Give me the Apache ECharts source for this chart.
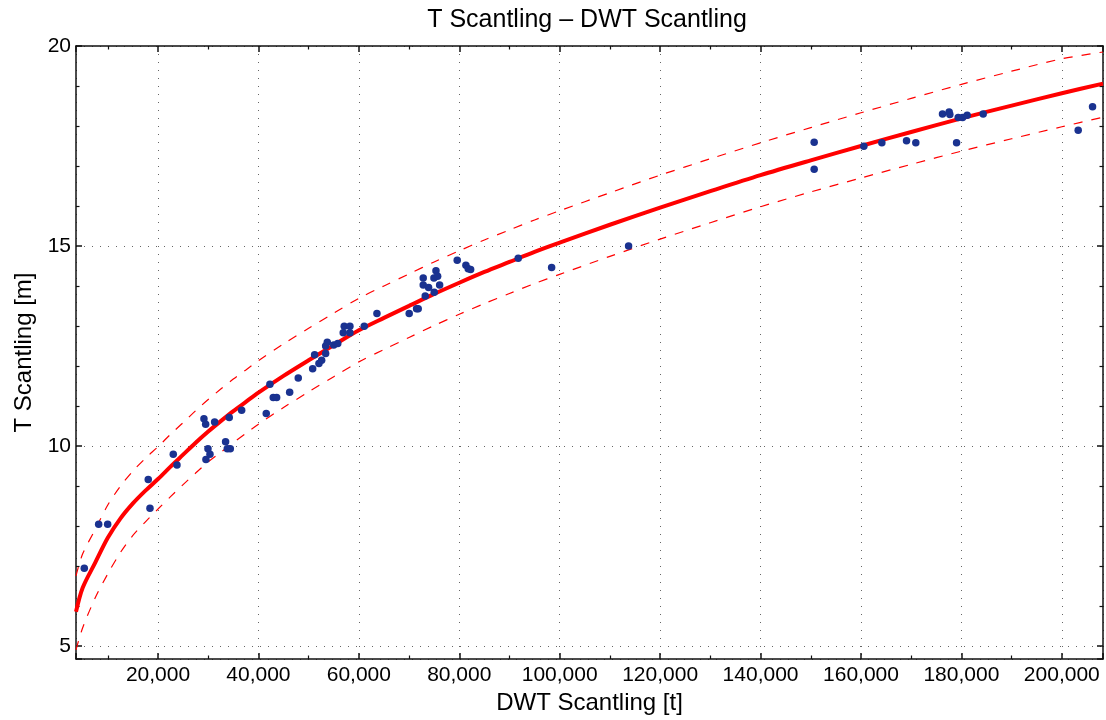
<!DOCTYPE html>
<html>
<head>
<meta charset="utf-8">
<script src="https://cdn.jsdelivr.net/npm/echarts@6/dist/echarts.min.js"></script>
<style>
html,body{margin:0;padding:0;background:#fff;}
#c{width:1106px;height:720px;}
</style>
</head>
<body>
<div id="c"></div>
<script>
// Observed ships: [DWT Scantling (t), T Scantling (m)]
var shipDWT = [5317, 8184, 9976, 18060, 18400, 23040, 23780,
  29150, 29490, 31280, 34190, 36660, 33460, 29950, 30350, 29550, 33800, 34400,
  41560, 42290, 42950, 43630, 46220, 47930, 50800, 51190, 52050, 52590, 53390, 53390, 53710,
  55000, 55800, 56890, 58220, 57090, 58220, 61070, 63600, 70030, 71500, 71820,
  73220, 72820, 72820, 73890, 75010, 74950, 75360, 75690, 76090, 79590, 81320, 81780, 82260,
  91740, 98390, 113720, 150680, 150680, 160570, 164160, 169070, 170920,
  176240, 177560, 177700, 179040, 179360, 180230, 181150, 184340, 203260, 206120];
var shipT = [6.94, 8.04, 8.04, 9.16, 8.44, 9.79, 9.52,
  10.68, 10.54, 10.60, 10.71, 10.89, 10.10, 9.93, 9.79, 9.66, 9.93, 9.93,
  10.81, 11.54, 11.21, 11.21, 11.34, 11.70, 11.93, 12.28, 12.06, 12.14, 12.31, 12.50, 12.59,
  12.52, 12.56, 12.83, 12.83, 12.99, 12.99, 12.99, 13.31, 13.31, 13.43, 13.43,
  13.75, 14.02, 14.20, 13.96, 13.84, 14.20, 14.38, 14.24, 14.02, 14.64, 14.52, 14.43, 14.41,
  14.69, 14.46, 15.00, 17.59, 16.92, 17.49, 17.58, 17.63, 17.58,
  18.30, 18.35, 18.29, 17.58, 18.21, 18.21, 18.27, 18.30, 17.89, 18.48];

// Fitted curve (solid) and its band (dashed), read at these DWT values
var fitDWT = [3670, 5000, 7500, 10000, 12500, 15000, 17500, 20000, 22500, 25000, 27500,
  30000, 32500, 35000, 37500, 40000, 45000, 50000, 55000, 60000, 65000, 70000, 75000,
  80000, 85000, 90000, 95000, 100000, 110000, 120000, 130000, 140000, 150000,
  160000, 170000, 180000, 190000, 200000, 208200];
var fitT = [5.85, 6.45, 7.08, 7.70, 8.18, 8.56, 8.88, 9.17, 9.48, 9.78, 10.08,
  10.36, 10.62, 10.87, 11.10, 11.33, 11.75, 12.14, 12.52, 12.89, 13.20, 13.50, 13.80,
  14.08, 14.35, 14.60, 14.85, 15.08, 15.53, 15.96, 16.37, 16.77, 17.14,
  17.50, 17.85, 18.19, 18.51, 18.82, 19.06];
var upperT = [6.75, 7.30, 7.91, 8.52, 8.99, 9.37, 9.69, 9.98, 10.29, 10.58, 10.88,
  11.16, 11.42, 11.67, 11.90, 12.13, 12.55, 12.94, 13.32, 13.69, 14.00, 14.30, 14.60,
  14.88, 15.15, 15.40, 15.65, 15.88, 16.33, 16.77, 17.18, 17.58, 17.96,
  18.33, 18.69, 19.04, 19.37, 19.68, 19.85];
var lowerT = [4.90, 5.45, 6.20, 6.80, 7.33, 7.76, 8.10, 8.42, 8.73, 9.03, 9.32,
  9.60, 9.84, 10.08, 10.31, 10.54, 10.96, 11.35, 11.73, 12.10, 12.41, 12.71, 13.01,
  13.29, 13.56, 13.81, 14.06, 14.29, 14.74, 15.17, 15.58, 15.98, 16.35,
  16.70, 17.04, 17.37, 17.68, 17.98, 18.22];

var xMin = 3670, xMax = 208200, yMin = 4.67, yMax = 20;
var titleText = 'T Scantling \u2013 DWT Scantling';
var xName = 'DWT Scantling [t]';
var yName = 'T Scantling [m]';

function pairs(xs, ys) { return xs.map(function (x, i) { return [x, ys[i]]; }); }

var FONT = '"Liberation Sans", Arial, Helvetica, sans-serif';
var axisLine = { show: true, onZero: false, lineStyle: { color: '#111', width: 1.5 } };
var tick = { show: true, inside: true, length: 6, lineStyle: { color: '#111', width: 1.5 } };
var grid = { show: true, lineStyle: { color: '#666', width: 1, type: [1, 7] } };

var chart = echarts.init(document.getElementById('c'), null, { renderer: 'canvas' });
chart.setOption({
  animation: false,
  backgroundColor: '#fff',
  textStyle: { fontFamily: FONT },
  title: {
    text: titleText, left: 582, top: 3, textAlign: 'center',
    textStyle: { fontFamily: FONT, fontSize: 25, fontWeight: 'normal', color: '#000' }
  },
  grid: { left: 76, right: 3, top: 46, bottom: 61, containLabel: false },
  xAxis: [{
    type: 'value', min: xMin, max: xMax, splitNumber: 10, position: 'bottom',
    name: xName, nameLocation: 'middle', nameGap: 29,
    nameTextStyle: { fontFamily: FONT, fontSize: 24, color: '#000' },
    axisLine: axisLine, axisTick: tick,
    minorTick: { show: true, splitNumber: 2, length: 3.5, lineStyle: { color: '#111', width: 1.2 } },
    splitLine: grid,
    axisLabel: { fontFamily: FONT, fontSize: 21, color: '#000', margin: 6, showMinLabel: false, showMaxLabel: false,
      formatter: function (v) { return v.toLocaleString('en-US'); } }
  }, {
    type: 'value', min: xMin, max: xMax, splitNumber: 10, position: 'top',
    axisLine: axisLine, axisTick: tick,
    minorTick: { show: true, splitNumber: 2, length: 3.5, lineStyle: { color: '#111', width: 1.2 } },
    splitLine: { show: false }, axisLabel: { show: false }
  }],
  yAxis: [{
    type: 'value', min: yMin, max: yMax, splitNumber: 3, position: 'left',
    name: yName, nameLocation: 'middle', nameGap: 40, nameRotate: 90,
    nameTextStyle: { fontFamily: FONT, fontSize: 24, color: '#000' },
    axisLine: axisLine, axisTick: tick,
    minorTick: { show: true, splitNumber: 5, length: 3.5, lineStyle: { color: '#111', width: 1.2 } },
    splitLine: grid,
    axisLabel: { fontFamily: FONT, fontSize: 21, color: '#000', margin: 5, showMinLabel: false, showMaxLabel: true }
  }, {
    type: 'value', min: yMin, max: yMax, splitNumber: 3, position: 'right',
    axisLine: axisLine, axisTick: tick,
    minorTick: { show: true, splitNumber: 5, length: 3.5, lineStyle: { color: '#111', width: 1.2 } },
    splitLine: { show: false }, axisLabel: { show: false }
  }],
  series: [{
    type: 'line', name: 'upper', data: pairs(fitDWT, upperT), smooth: 0.3,
    showSymbol: false, symbol: 'none', lineStyle: { color: '#ff0000', width: 1.2, type: [9, 9] }, z: 2
  }, {
    type: 'line', name: 'lower', data: pairs(fitDWT, lowerT), smooth: 0.3,
    showSymbol: false, symbol: 'none', lineStyle: { color: '#ff0000', width: 1.2, type: [9, 9] }, z: 2
  }, {
    type: 'line', name: 'fit', data: pairs(fitDWT, fitT), smooth: 0.3,
    showSymbol: false, symbol: 'none', lineStyle: { color: '#ff0000', width: 4 }, z: 3
  }, {
    type: 'scatter', name: 'ships', data: pairs(shipDWT, shipT), symbolSize: 7.5,
    itemStyle: { color: '#1a3290', opacity: 1 }, z: 4
  }]
});
</script>
</body>
</html>
